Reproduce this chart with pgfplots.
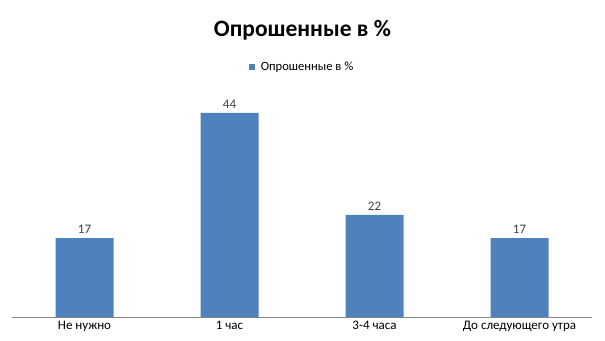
\documentclass[border=0pt]{standalone}
\usepackage{pgfplots}
\pgfplotsset{compat=1.18}
\usepackage{fontspec}
\setmainfont{Carlito}
\definecolor{barblue}{HTML}{4F81BD}
\definecolor{axgray}{HTML}{868686}
\definecolor{lblgray}{HTML}{404040}
\begin{document}
\begin{tikzpicture}[x=1pt,y=1pt]
\path[use as bounding box] (0,0) rectangle (605,340);
\begin{axis}[
  at={(12pt,23pt)}, anchor=south west,
  scale only axis, width=580pt, height=232pt,
  xmin=-0.5, xmax=3.5, ymin=0, ymax=50,
  axis x line*=bottom, axis y line=none,
  x axis line style={draw=axgray, line width=0.8pt, -},
  xtick={0,1,2,3},
  xticklabels={Не нужно, 1 час, 3-4 часа, До следующего утра},
  major tick length=0pt,
  xticklabel style={font=\fontsize{13}{15}\selectfont, text=black, yshift=-1pt},
  ytick=\empty,
  ybar, bar width=58pt,
  nodes near coords,
  nodes near coords style={font=\fontsize{13}{15}\selectfont, text=lblgray, yshift=1pt},
  legend style={at={(0.5,1.078)}, anchor=center, draw=none, font=\fontsize{12.6}{15}\selectfont, fill=none},
  legend image code/.code={\fill[barblue] (0pt,-3.2pt) rectangle (6.5pt,3.2pt); \path (10pt,0pt);},
  /pgf/number format/assume math mode=true,
]
\addplot[fill=barblue, draw=none] coordinates {(0,17) (1,44) (2,22) (3,17)};
\addlegendentry{Опрошенные в \%}
\end{axis}
\node[font=\fontsize{23.5}{28}\selectfont\bfseries, anchor=base] at (302.5,303.3) {Опрошенные в \%};
\end{tikzpicture}
\end{document}
